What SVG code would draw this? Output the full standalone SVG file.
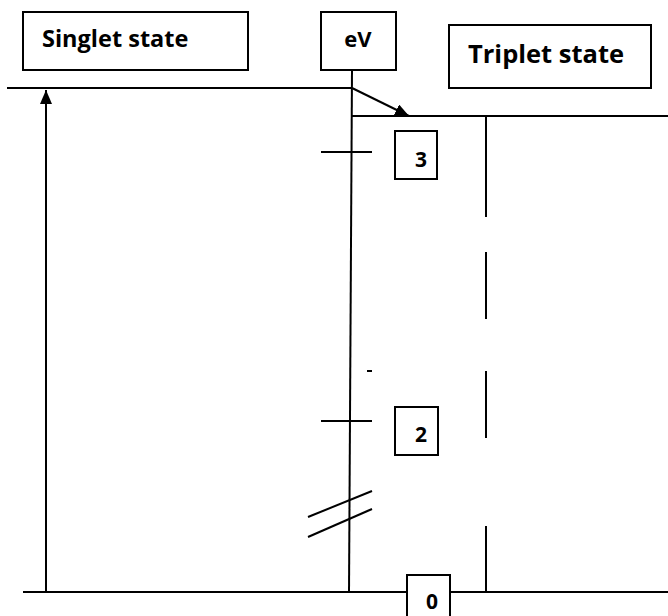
<svg xmlns="http://www.w3.org/2000/svg" width="668" height="616" viewBox="0 0 668 616">
<style>
.box{fill:#fff;stroke:#000;stroke-width:2}
.ln{stroke:#000;stroke-width:2;fill:none}
.t{font-family:"Open Sans","Liberation Sans",sans-serif;font-weight:bold;fill:#000}
</style>
<defs>
<marker id="ah" markerWidth="14" markerHeight="12" refX="14" refY="6" orient="auto" markerUnits="userSpaceOnUse">
<path d="M0,0 L14,6 L0,12 Z" fill="#000"/>
</marker>
</defs>
<g id="connectors">
<line class="ln" x1="7" y1="88" x2="352" y2="88"/>
<line class="ln" x1="352" y1="70" x2="349" y2="592"/>
<line class="ln" x1="352" y1="116" x2="668" y2="116"/>
<line class="ln" x1="23" y1="592" x2="668" y2="592"/>
<line class="ln" x1="46" y1="592" x2="46" y2="90" marker-end="url(#ah)"/>
<line class="ln" x1="352" y1="88" x2="409" y2="116" marker-end="url(#ah)"/>
<line class="ln" x1="486" y1="116" x2="486" y2="592" stroke-dasharray="101,35,67,52,67,88,200"/>
<line class="ln" x1="321" y1="152" x2="372" y2="152"/>
<line class="ln" x1="321" y1="421" x2="372" y2="421"/>
<line class="ln" x1="367" y1="371" x2="372" y2="371"/>
<line class="ln" x1="308" y1="517" x2="372" y2="491"/>
<line class="ln" x1="308" y1="537" x2="372" y2="509"/>
</g>
<g id="singlet"><rect class="box" x="23" y="12" width="225" height="58"/><text class="t" x="42" y="47" font-size="23.5">Singlet state</text></g>
<g id="ev"><rect class="box" x="321" y="12" width="75" height="58"/><text class="t" x="358" y="47" font-size="22" text-anchor="middle">eV</text></g>
<g id="triplet"><rect class="box" x="449" y="25" width="202" height="63"/><text class="t" x="468" y="63" font-size="25.5">Triplet state</text></g>
<g id="n3"><rect class="box" x="395" y="131" width="42" height="48"/><text class="t" x="421" y="167" font-size="21" text-anchor="middle">3</text></g>
<g id="n2"><rect class="box" x="395" y="407" width="43" height="48"/><text class="t" x="421" y="442" font-size="21" text-anchor="middle">2</text></g>
<g id="n0"><rect class="box" x="407" y="575" width="43" height="45"/><text class="t" x="432" y="609" font-size="21" text-anchor="middle">0</text></g>
</svg>
